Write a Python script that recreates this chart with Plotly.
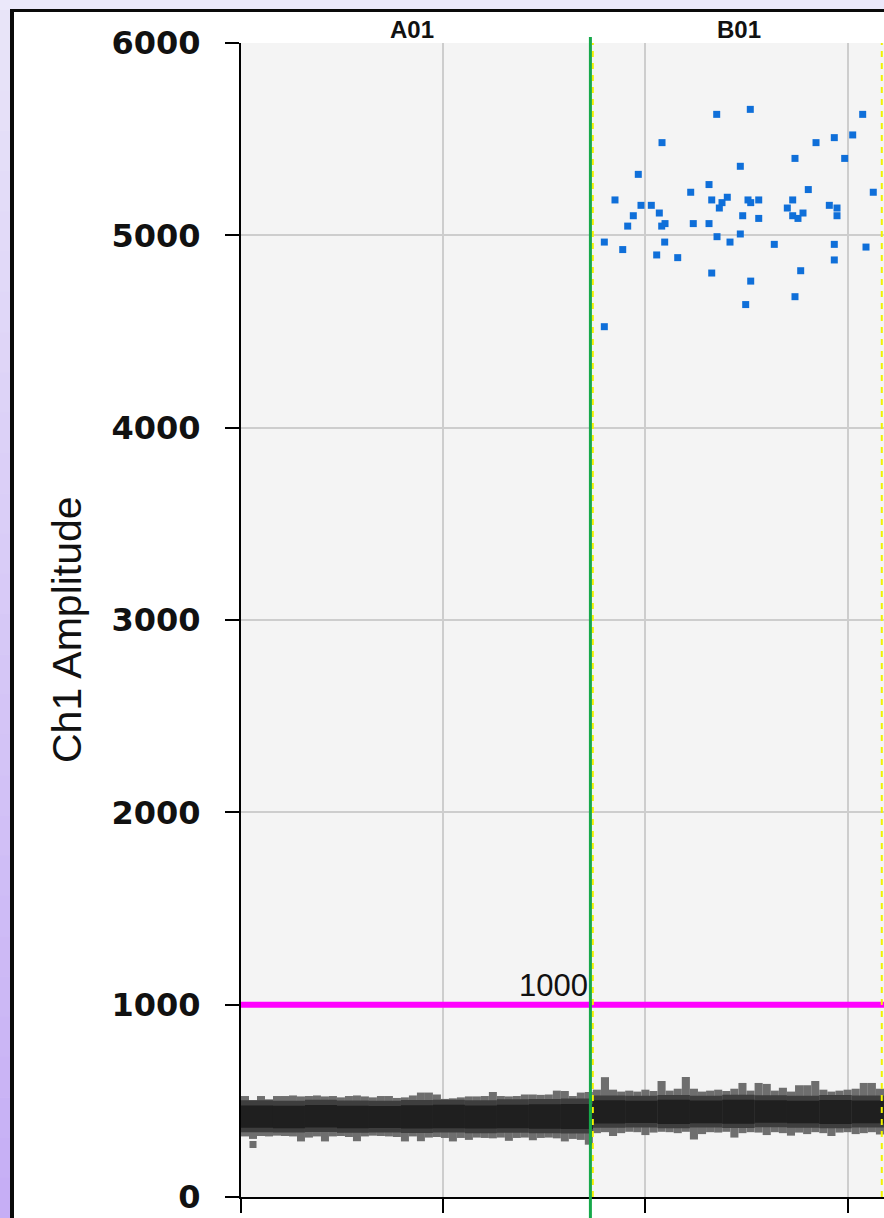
import numpy as np
import plotly.graph_objects as go

# ---------------- data ----------------
Y_TICKS = [0, 1000, 2000, 3000, 4000, 5000, 6000]
X_TICKS = [0, 5000, 10000, 15000]
X_RANGE = [0, 15900]
Y_RANGE = [0, 6000]
THRESHOLD = 1000
WELLS = ["A01", "B01"]
WELL_START = [0, 8700]
WELL_END = [8700, 15845]
SELECTED_EDGE = 8640          # green marker line
Y_TITLE = "Ch1 Amplitude"

# positive droplets (B01): event number, amplitude
POS_EVENT = [11763, 12594, 15373, 10411, 14219, 14671, 15126, 13699, 14928, 9824,
             12347, 9248, 11573, 11120, 14028, 15635, 9891, 10146, 9701, 10344,
             9562, 10403, 10485, 11184, 11573, 11640, 11894, 12025, 11828, 12537,
             12604, 12802, 12406, 12802, 13642, 13509, 13642, 13773, 13897, 14548,
             14738, 14738, 8984, 9439, 10477, 10279, 10799, 11771, 12092, 12347,
             13187, 14671, 15455, 14671, 11640, 12604, 13840, 13699, 12480, 8984]
POS_AMP = [5629, 5655, 5629, 5482, 5482, 5508, 5522, 5400, 5400, 5317,
           5359, 5184, 5264, 5224, 5238, 5224, 5156, 5156, 5102, 5116,
           5048, 5048, 5061, 5061, 5061, 5184, 5170, 5198, 5142, 5184,
           5170, 5184, 5102, 5088, 5184, 5142, 5102, 5088, 5116, 5156,
           5142, 5102, 4965, 4926, 4965, 4898, 4884, 4993, 4965, 5007,
           4953, 4953, 4939, 4872, 4804, 4762, 4816, 4681, 4640, 4525]

# isolated negative droplet (A01)
NEG_OUT_EVENT = [297]
NEG_OUT_AMP = [273]

# negative droplet band, outer envelope per bin
A01_OUTER_TOP = [525, 503, 525, 508, 525, 525, 528, 523, 525, 528, 523, 525, 518, 525, 528,
                 523, 518, 525, 525, 515, 518, 528, 543, 543, 533, 510, 513, 518, 523, 523,
                 525, 546, 525, 523, 525, 533, 533, 531, 533, 553, 551, 525, 543, 546]
A01_OUTER_BOT = [315, 302, 317, 315, 319, 317, 315, 289, 309, 315, 289, 315, 317, 312, 290,
                 315, 319, 317, 315, 312, 289, 315, 290, 309, 312, 307, 289, 307, 297, 309,
                 307, 305, 309, 292, 307, 309, 295, 307, 309, 305, 289, 302, 297, 272]
B01_OUTER_TOP = [558, 623, 558, 548, 553, 548, 558, 551, 603, 553, 563, 624, 563, 548, 553,
                 558, 551, 563, 593, 553, 593, 588, 553, 568, 548, 581, 581, 603, 558, 548,
                 553, 558, 563, 593, 593, 563, 624]
B01_OUTER_BOT = [332, 337, 317, 332, 339, 337, 322, 335, 339, 337, 332, 339, 299, 327, 337,
                 335, 339, 309, 332, 337, 335, 322, 337, 332, 319, 335, 327, 337, 332, 317,
                 335, 337, 327, 332, 337, 325, 332]
# inner layers (coarser bins)
A01_MID_TOP = [503, 500, 505, 502, 500, 504, 506, 503, 508, 510, 512]
A01_MID_BOT = [337, 335, 338, 334, 336, 333, 335, 332, 334, 331, 330]
A01_CORE_TOP = [476, 474, 478, 475, 473, 477, 479, 476, 480, 482, 484]
A01_CORE_BOT = [360, 358, 362, 357, 359, 356, 358, 356, 357, 355, 354]
B01_MID_TOP = [528, 526, 530, 527, 531, 529, 526, 530, 528]
B01_MID_BOT = [360, 362, 358, 361, 359, 363, 360, 358, 361]
B01_CORE_TOP = [503, 500, 505, 502, 506, 503, 500, 504, 502]
B01_CORE_BOT = [382, 385, 380, 384, 381, 386, 383, 380, 384]
B01_BAND_END = 16100

# ---------------- figure ----------------
W, H = 884, 1218
ML, MR, MT, MB = 241, 0, 43, 21
PW, PH = W - ML - MR, H - MT - MB


def px(xp):
    return (xp - ML) / PW


def py(yp):
    return (H - MB - yp) / PH


def band(start, end, top, bot, color):
    e = np.linspace(start, end, len(top) + 1)
    c = (e[:-1] + e[1:]) / 2
    w = np.diff(e)
    t = np.array(top, dtype=float)
    b = np.array(bot, dtype=float)
    return go.Bar(x=c, y=t - b, base=b, width=w,
                  marker=dict(color=color, line=dict(width=0)),
                  hoverinfo="skip", showlegend=False)


OUTER_C, MID_C, CORE_C = "#6e6e6e", "#3e3e3e", "#1f1f1f"

fig = go.Figure()
fig.add_trace(band(WELL_START[0], WELL_END[0], A01_OUTER_TOP, A01_OUTER_BOT, OUTER_C))
fig.add_trace(band(WELL_START[1], B01_BAND_END, B01_OUTER_TOP, B01_OUTER_BOT, OUTER_C))
fig.add_trace(band(WELL_START[0], WELL_END[0], A01_MID_TOP, A01_MID_BOT, MID_C))
fig.add_trace(band(WELL_START[1], X_RANGE[1], B01_MID_TOP, B01_MID_BOT, MID_C))
fig.add_trace(band(WELL_START[0], WELL_END[0], A01_CORE_TOP, A01_CORE_BOT, CORE_C))
fig.add_trace(band(WELL_START[1], X_RANGE[1], B01_CORE_TOP, B01_CORE_BOT, CORE_C))

fig.add_trace(go.Scatter(x=NEG_OUT_EVENT, y=NEG_OUT_AMP, mode="markers",
                         marker=dict(symbol="square", size=7, color=OUTER_C, line=dict(width=0)),
                         hoverinfo="skip", showlegend=False))
fig.add_trace(go.Scatter(x=POS_EVENT, y=POS_AMP, mode="markers",
                         marker=dict(symbol="square", size=7, color="#0f6fd9", line=dict(width=0)),
                         hoverinfo="skip", showlegend=False))

shapes = []
# left gradient strip
top_c = np.array([0xe9, 0xe5, 0xf9])
bot_c = np.array([0xc6, 0xae, 0xf5])
n = 30
for i in range(n):
    f = (i + 0.5) / n
    c = top_c + (bot_c - top_c) * f
    y0p = 10 + (H - 10) * i / n
    y1p = 10 + (H - 10) * (i + 1) / n
    shapes.append(dict(type="rect", xref="paper", yref="paper", layer="below",
                       x0=px(-2), x1=px(10.5), y0=py(y1p + 0.5), y1=py(y0p),
                       fillcolor="rgb(%d,%d,%d)" % tuple(c), line=dict(width=0)))
# white panel
shapes.append(dict(type="rect", xref="paper", yref="paper", layer="below",
                   x0=px(13), x1=px(W + 5), y0=py(H + 5), y1=py(11.5),
                   fillcolor="white", line=dict(width=0)))
# plot background
shapes.append(dict(type="rect", xref="paper", yref="paper", layer="below",
                   x0=0, x1=1, y0=0, y1=1, fillcolor="#f4f4f4", line=dict(width=0)))
# black frame
shapes.append(dict(type="line", xref="paper", yref="paper", layer="above",
                   x0=px(12), x1=px(12), y0=py(H + 5), y1=py(9),
                   line=dict(color="#0a0a0a", width=4)))
shapes.append(dict(type="line", xref="paper", yref="paper", layer="above",
                   x0=px(10), x1=px(W + 5), y0=py(10.5), y1=py(10.5),
                   line=dict(color="#0a0a0a", width=3)))
# threshold line
shapes.append(dict(type="line", xref="paper", yref="y", layer="above",
                   x0=0, x1=1, y0=THRESHOLD, y1=THRESHOLD,
                   line=dict(color="#ff00ff", width=6)))
# well boundaries (yellow dashed)
for xe in WELL_END:
    shapes.append(dict(type="line", xref="x", yref="y", layer="above",
                       x0=xe, x1=xe, y0=Y_RANGE[0], y1=Y_RANGE[1],
                       line=dict(color="#f2f200", width=2, dash="6px,6px")))
# green selection line
gx = (SELECTED_EDGE - X_RANGE[0]) / (X_RANGE[1] - X_RANGE[0])
shapes.append(dict(type="line", xref="paper", yref="paper", layer="above",
                   x0=gx, x1=gx, y0=py(H + 5), y1=py(37),
                   line=dict(color="#16a84a", width=3)))

annotations = []
label_shift = [-5, 2]
for name, s, e, sh in zip(WELLS, WELL_START, WELL_END, label_shift):
    annotations.append(dict(text=name, x=(s + e) / 2, xref="x", y=py(29), yref="paper",
                            xanchor="center", yanchor="middle", showarrow=False, xshift=sh,
                            font=dict(family="Liberation Sans", size=24, color="#111111", weight="bold")))
annotations.append(dict(text=str(THRESHOLD), x=SELECTED_EDGE, xref="x", y=THRESHOLD, yref="y",
                        xanchor="right", yanchor="bottom", showarrow=False, xshift=0, yshift=0,
                        font=dict(family="Liberation Sans", size=31, color="#111111")))
annotations.append(dict(text=Y_TITLE, x=px(67), xref="paper", y=py(630), yref="paper",
                        textangle=-90, xanchor="center", yanchor="middle", showarrow=False,
                        font=dict(family="Liberation Sans", size=41, color="#111111")))

common_x = dict(range=X_RANGE, tickvals=X_TICKS, showticklabels=False, zeroline=False)
fig.update_layout(
    width=W, height=H,
    margin=dict(l=ML, r=MR, t=MT, b=MB, pad=0),
    paper_bgcolor="#ebe8fa",
    plot_bgcolor="rgba(0,0,0,0)",
    barmode="overlay",
    showlegend=False,
    shapes=shapes,
    annotations=annotations,
    xaxis=dict(**common_x, showgrid=True, gridcolor="#cdcdcd", gridwidth=2,
               ticks="outside", ticklen=14, tickwidth=2, tickcolor="black",
               showline=True, linecolor="black", linewidth=2),
    xaxis2=dict(**common_x, overlaying="x", anchor="y", side="bottom", showgrid=False,
                ticks="inside", ticklen=12, tickwidth=2, tickcolor="black", showline=False),
    xaxis3=dict(**common_x, overlaying="x", anchor="y", side="top", showgrid=False,
                ticks="inside", ticklen=14, tickwidth=2, tickcolor="#222222",
                showline=True, linecolor="#3a3a3a", linewidth=2),
    yaxis=dict(range=Y_RANGE, tickvals=Y_TICKS, zeroline=False,
               showgrid=True, gridcolor="#cdcdcd", gridwidth=2,
               ticks="outside", ticklen=14, tickwidth=2, tickcolor="black",
               showline=True, linecolor="black", linewidth=2,
               ticklabelstandoff=18,
               tickfont=dict(family="DejaVu Sans", size=32, color="#111111", weight="bold")),
    yaxis2=dict(range=Y_RANGE, tickvals=Y_TICKS, overlaying="y", anchor="x", side="left",
                showgrid=False, zeroline=False, showticklabels=False,
                ticks="inside", ticklen=11, tickwidth=2, tickcolor="black", showline=False),
)

POST = ("document.documentElement.style.margin='0';"
        "document.documentElement.style.overflow='hidden';"
        "document.body.style.margin='0';document.body.style.padding='0';"
        "document.body.style.overflow='hidden';"
        "document.body.style.background='#ebe8fa';")
fig.write_html("out.html", post_script=POST, config={"displayModeBar": False})
